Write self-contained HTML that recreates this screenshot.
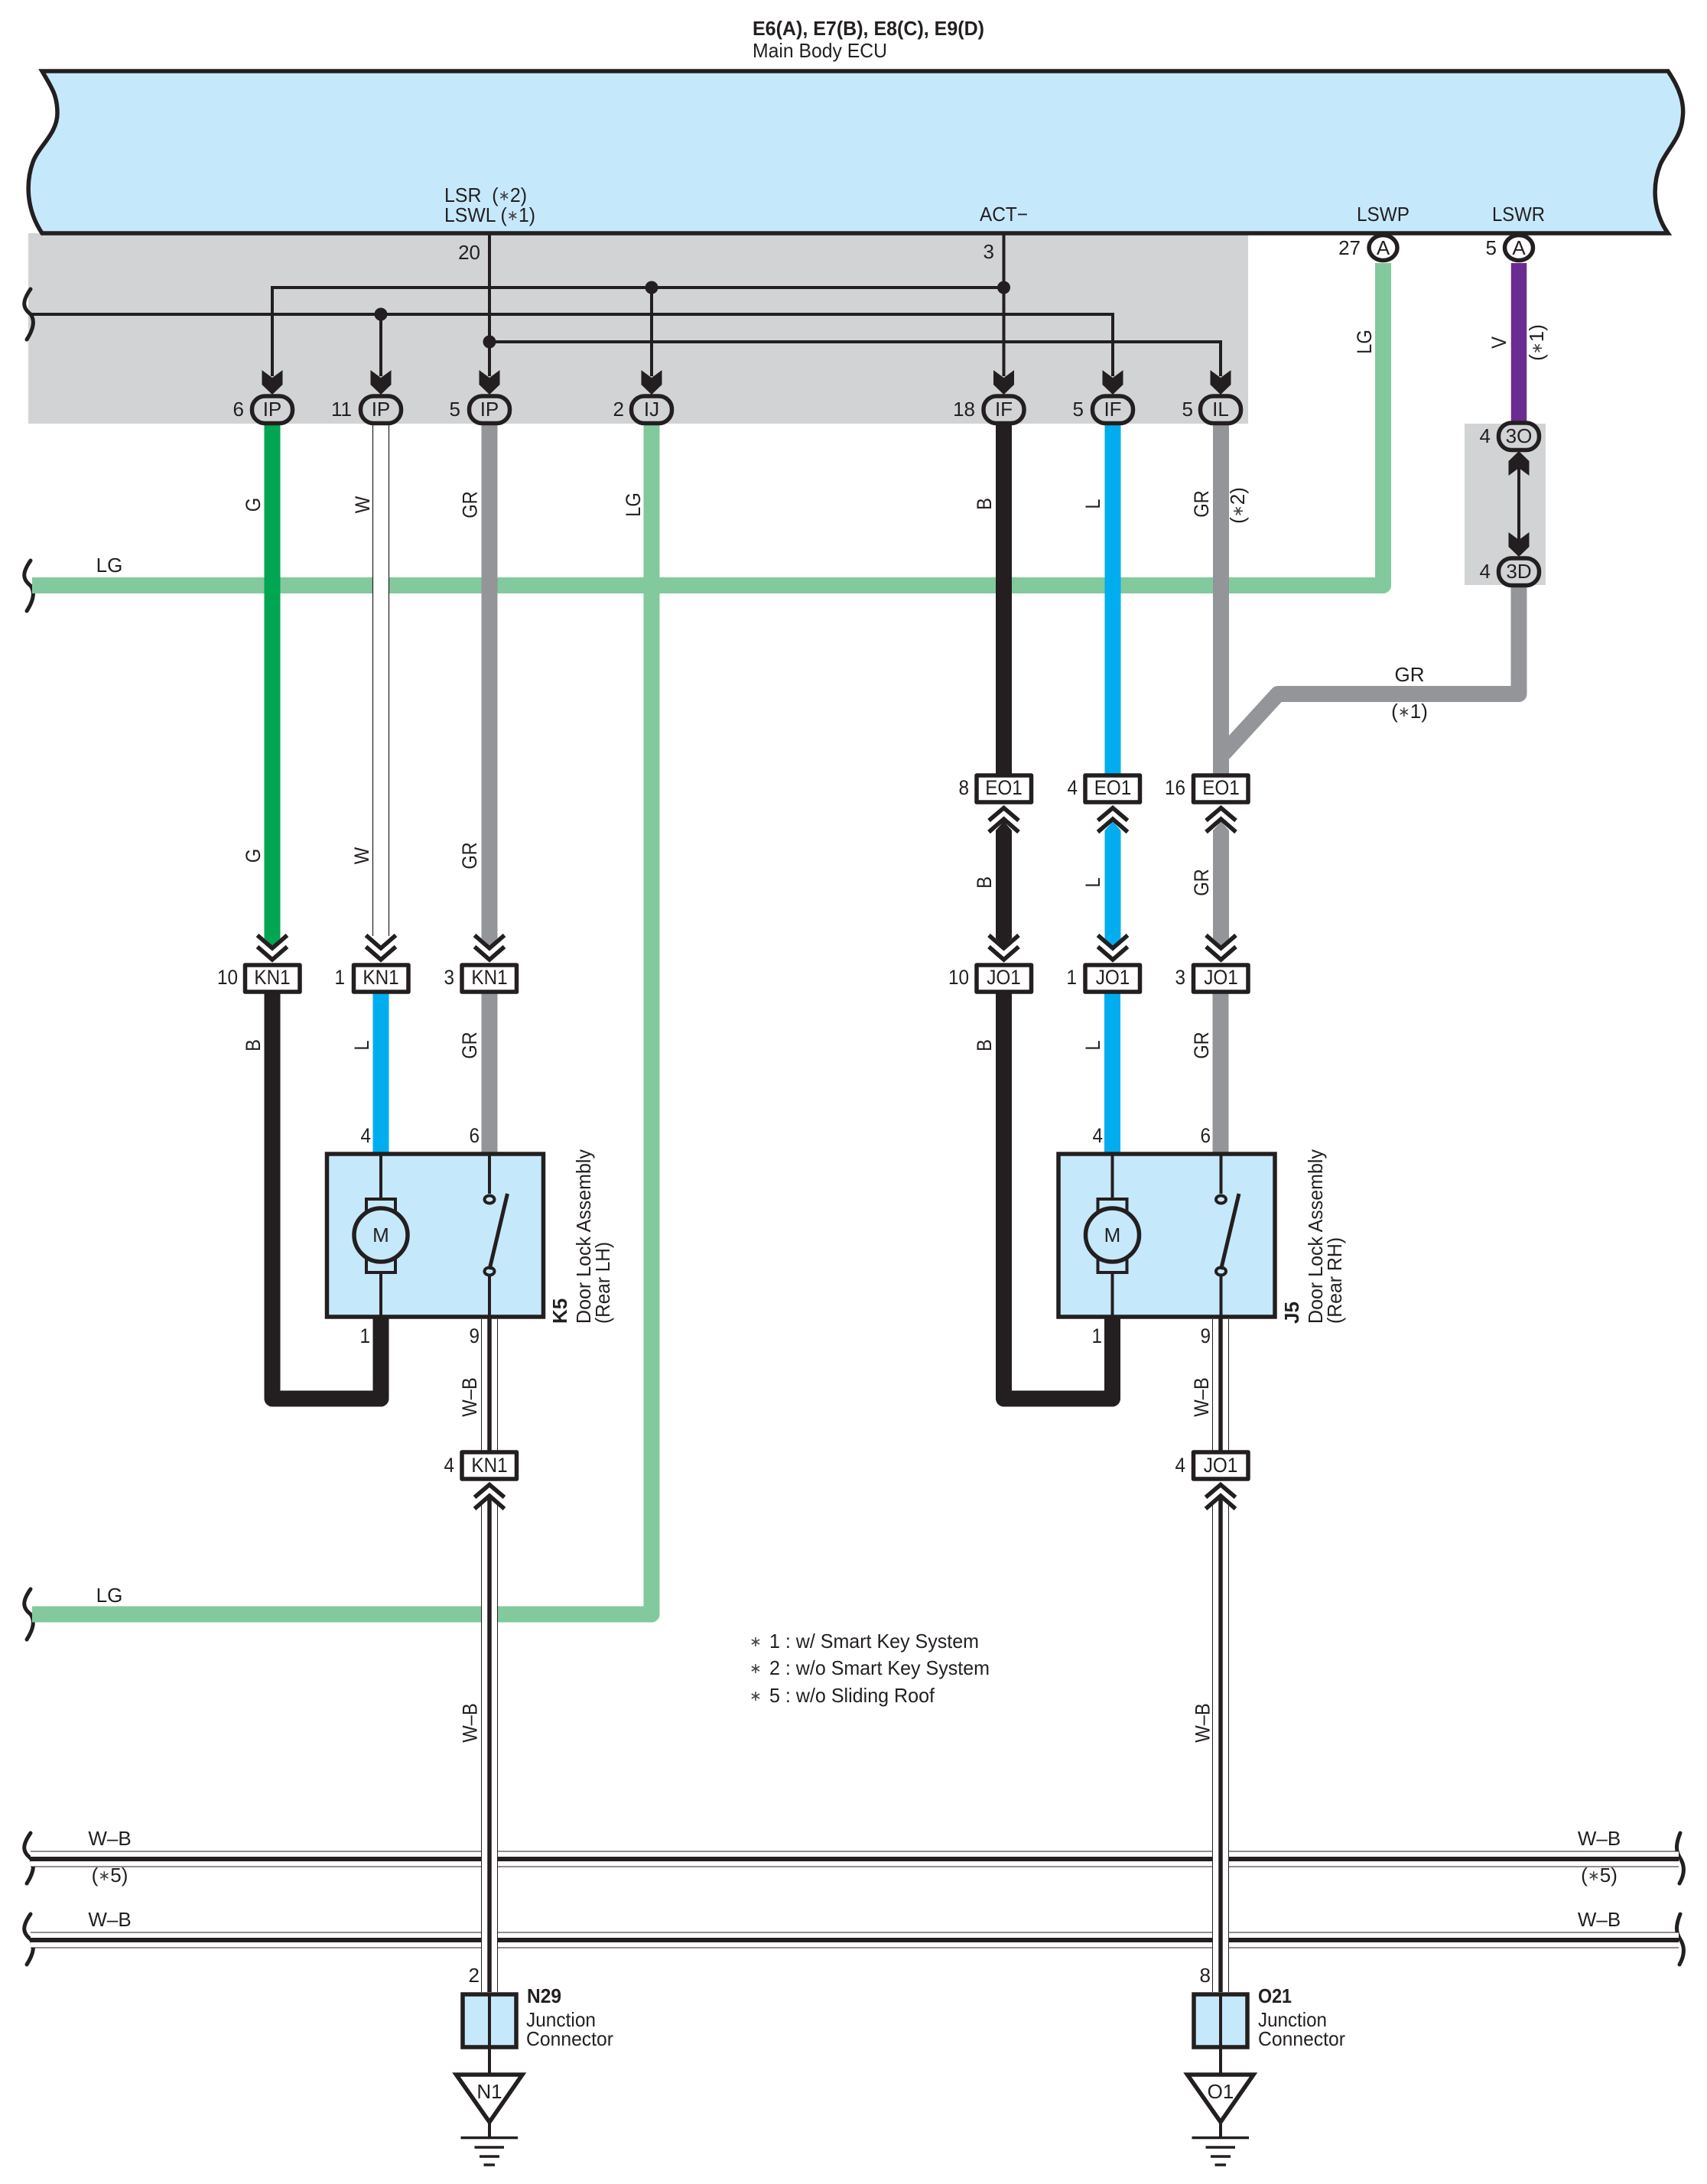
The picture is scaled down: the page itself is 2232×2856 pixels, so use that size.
<!DOCTYPE html>
<html><head><meta charset="utf-8"><style>
html,body{margin:0;padding:0;background:#fff}
svg{display:block}
text{font-family:"Liberation Sans",sans-serif;fill:#231f20;font-size:26px}
.m{text-anchor:middle}.e{text-anchor:end}
.c{font-size:27px}.b{font-weight:bold}
.a{font-size:19px;baseline-shift:2px;fill:#444}
.k{fill:none;stroke:#231f20;stroke-width:4}
</style></head><body>
<svg xmlns="http://www.w3.org/2000/svg" width="2232" height="2856" viewBox="0 0 2232 2856">
<defs>
<path id="ah" d="M-13.5 0L0 10L13.5 0V19L0 32L-13.5 19Z" fill="#231f20"/>
<path id="au" d="M-13.5 0L0 -10L13.5 0V-19L0 -32L-13.5 -19Z" fill="#231f20"/>
<g id="cd" style="fill:none;stroke:#231f20;stroke-width:5.5"><path d="M-19.5 1223L0 1240L19.5 1223"/><path d="M-19.5 1238L0 1255L19.5 1238"/></g>
<g id="cu" style="fill:none;stroke:#231f20;stroke-width:5.5"><path d="M-19.5 1073L0 1056.5L19.5 1073"/><path d="M-19.5 1088L0 1071L19.5 1088"/></g>
<g id="sqL"><path d="M40 -33C28 -16 30 -8 40 0C46 8 44 19 35 33" style="fill:none;stroke:#231f20;stroke-width:5;stroke-linecap:round"/></g>
<g id="sqR"><path d="M2197 -33C2190 -16 2192 -8 2197 0C2202 8 2204 19 2196 33" style="fill:none;stroke:#231f20;stroke-width:5;stroke-linecap:round"/></g>
<g id="doorBox">
<rect x="427.5" y="1509" width="283" height="213" fill="#c6e8fb" stroke="#231f20" stroke-width="5.5"/>
<path d="M498 1509V1722M640 1509V1561M640 1669V1722" class="k"/>
<rect x="479" y="1568" width="38" height="20" fill="#c6e8fb" stroke="#231f20" stroke-width="4"/>
<rect x="479" y="1643" width="38" height="21" fill="#c6e8fb" stroke="#231f20" stroke-width="4"/>
<circle cx="498" cy="1615" r="35" fill="#c6e8fb" stroke="#231f20" stroke-width="5.5"/>
<ellipse cx="640" cy="1568.5" rx="6.5" ry="5" fill="#c6e8fb" stroke="#231f20" stroke-width="4"/>
<ellipse cx="640" cy="1662.5" rx="6.5" ry="5" fill="#c6e8fb" stroke="#231f20" stroke-width="4"/>
<path d="M663.5 1561L640 1660" fill="none" stroke="#231f20" stroke-width="5"/>
</g>
</defs>

<!-- gray zones -->
<rect x="37" y="305" width="1595" height="249" fill="#d1d3d4"/>
<rect x="1915" y="554" width="106" height="211" fill="#d1d3d4"/>

<!-- ECU -->
<path d="M55 93H2181C2196 115 2203 135 2200 155C2198 180 2180 195 2171 215C2161 240 2160 275 2181 305H55C35 275 33 240 43 212C50 192 75 175 75 148C75 125 68 115 55 93Z" fill="#c6e8fb" stroke="#231f20" stroke-width="5.5" stroke-linejoin="miter"/>

<!-- squiggles -->
<use href="#sqL" transform="translate(0 411)"/>
<use href="#sqL" transform="translate(0 766)"/>
<use href="#sqL" transform="translate(0 2111)"/>
<use href="#sqL" transform="translate(0 2430)"/>
<use href="#sqL" transform="translate(0 2536)"/>
<use href="#sqR" transform="translate(0 2430)"/>
<use href="#sqR" transform="translate(0 2536)"/>

<!-- thin wires in gray zone -->
<g class="k">
<path d="M356 492V376H1312.5"/>
<path d="M40 411H1455V492"/>
<path d="M640 305V492"/>
<path d="M640 447H1596V492"/>
<path d="M852 376V492"/>
<path d="M1312.5 305V492"/>
<path d="M498 411V492"/>
<path d="M1986 600V720"/>
</g>
<g fill="#231f20">
<circle cx="498" cy="411" r="8.5"/><circle cx="852" cy="376" r="8.5"/><circle cx="1312.5" cy="376" r="8.5"/><circle cx="640" cy="447" r="8.5"/>
</g>
<use href="#ah" x="356" y="484"/><use href="#ah" x="498" y="484"/><use href="#ah" x="640" y="484"/><use href="#ah" x="852" y="484"/>
<use href="#ah" x="1312.5" y="484"/><use href="#ah" x="1455" y="484"/><use href="#ah" x="1596" y="484"/>
<use href="#au" x="1986" y="622"/><use href="#ah" x="1986" y="696"/>

<!-- LG wires -->
<g fill="none" stroke="#82c99d" stroke-width="21" stroke-linejoin="round">
<path d="M42 765.5H1808.5V344"/>
<path d="M42 2111H852V556"/>
</g>

<!-- horizontal W-B -->
<g>
<rect x="40" y="2420.5" width="2155" height="20.5" fill="#fff"/>
<rect x="40" y="2526.5" width="2155" height="20.5" fill="#fff"/>
<path d="M40 2421H2195M40 2441H2195M40 2527H2195M40 2547H2195" stroke="#231f20" stroke-width="1" fill="none"/>
<path d="M40 2431H2195M40 2537H2195" stroke="#231f20" stroke-width="6" fill="none"/>
</g>

<!-- upper colored wires -->
<path d="M345.5 556H366.5V1227L356 1237L345.5 1227Z" fill="#00a651"/>
<path d="M629.5 556H650.5V1227L640 1237L629.5 1227Z" fill="#939598"/>
<path d="M487.5 556H508.5V1224H487.5Z" fill="#fff"/>
<path d="M487.5 556V1224M508.5 556V1224" stroke="#231f20" stroke-width="1.2" fill="none"/>
<path d="M1302 556H1323V1015H1302Z" fill="#231f20"/>
<path d="M1444.5 556H1465.5V1015H1444.5Z" fill="#00aeef"/>
<path d="M1586 556H1607V1015H1586Z" fill="#939598"/>
<path d="M1986 344V555" stroke="#6c2b90" stroke-width="20.5" fill="none"/>
<path d="M1986 766V907.5H1671L1600 985" stroke="#939598" stroke-width="21" fill="none" stroke-linejoin="round"/>

<!-- EO1 - JO1 wires -->
<path d="M1302 1086L1312.5 1074L1323 1086V1227L1312.5 1237L1302 1227Z" fill="#231f20"/>
<path d="M1444.5 1086L1455 1074L1465.5 1086V1227L1455 1237L1444.5 1227Z" fill="#00aeef"/>
<path d="M1586 1086L1596.5 1074L1607 1086V1227L1596.5 1237L1586 1227Z" fill="#939598"/>

<!-- lower wires -->
<g fill="none" stroke-width="21" stroke-linejoin="round">
<path d="M356 1299V1829H498V1722" stroke="#231f20"/>
<path d="M498 1299V1510" stroke="#00aeef"/>
<path d="M640 1299V1510" stroke="#939598"/>
<path d="M1312.5 1299V1829H1454.5V1722" stroke="#231f20"/>
<path d="M1454.5 1299V1510" stroke="#00aeef"/>
<path d="M1596 1299V1510" stroke="#939598"/>
</g>

<!-- door boxes -->
<use href="#doorBox"/>
<use href="#doorBox" transform="translate(956.5 0)"/>

<!-- W-B verticals -->
<g>
<rect x="629.5" y="1725" width="21" height="172" fill="#fff"/>
<rect x="629.5" y="1968" width="21" height="637" fill="#fff"/>
<rect x="1585.5" y="1725" width="21" height="172" fill="#fff"/>
<rect x="1585.5" y="1968" width="21" height="637" fill="#fff"/>
<path d="M629.5 1725V1897M650.5 1725V1897M629.5 1968V2605M650.5 1968V2605M1585.5 1725V1897M1606.5 1725V1897M1585.5 1968V2605M1606.5 1968V2605" stroke="#231f20" stroke-width="1" fill="none"/>
<path d="M640 1722V1897M640 1956V2605M1596 1722V1897M1596 1956V2605" stroke="#231f20" stroke-width="5.5" fill="none"/>
</g>

<!-- chevrons -->
<use href="#cd" x="356"/><use href="#cd" x="498"/><use href="#cd" x="640"/>
<use href="#cd" x="1312.5"/><use href="#cd" x="1455"/><use href="#cd" x="1596.5"/>
<use href="#cu" x="1312.5"/><use href="#cu" x="1455"/><use href="#cu" x="1596.5"/>
<use href="#cu" transform="translate(640 885)"/><use href="#cu" transform="translate(1596 885)"/>

<!-- rectangular connectors -->
<g fill="#fff" stroke="#231f20" stroke-width="5.5" stroke-linejoin="round">
<rect x="320.5" y="1262" width="71.5" height="35"/>
<rect x="462.5" y="1262" width="71.5" height="35"/>
<rect x="604" y="1262" width="71.5" height="35"/>
<rect x="1277" y="1262" width="71.5" height="35"/>
<rect x="1419" y="1262" width="71.5" height="35"/>
<rect x="1560.5" y="1262" width="71.5" height="35"/>
<rect x="1277" y="1014" width="71.5" height="35"/>
<rect x="1419" y="1014" width="71.5" height="35"/>
<rect x="1560.5" y="1014" width="71.5" height="35"/>
<rect x="604" y="1899" width="71.5" height="35"/>
<rect x="1560.5" y="1899" width="71.5" height="35"/>
</g>

<!-- pills -->
<g fill="#d1d3d4" stroke="#231f20" stroke-width="5.5">
<rect x="329.5" y="518" width="53" height="35.5" rx="17"/>
<rect x="471.5" y="518" width="53" height="35.5" rx="17"/>
<rect x="613.5" y="518" width="53" height="35.5" rx="17"/>
<rect x="825.5" y="518" width="53" height="35.5" rx="17"/>
<rect x="1286" y="518" width="53" height="35.5" rx="17"/>
<rect x="1428.5" y="518" width="53" height="35.5" rx="17"/>
<rect x="1569.5" y="518" width="53" height="35.5" rx="17"/>
<rect x="1959.5" y="553" width="53" height="35.5" rx="17"/>
<rect x="1959.5" y="730" width="53" height="35.5" rx="17"/>
</g>
<g fill="#fff" stroke="#231f20" stroke-width="5.5">
<ellipse cx="1808.5" cy="324" rx="18.5" ry="16.5"/>
<ellipse cx="1986" cy="324" rx="18.5" ry="16.5"/>
</g>

<!-- junction connectors & grounds -->
<g stroke="#231f20">
<rect x="605" y="2608" width="70" height="69" fill="#c6e8fb" stroke-width="5.5"/>
<rect x="1561" y="2608" width="70" height="69" fill="#c6e8fb" stroke-width="5.5"/>
<path d="M640 2608V2712M1596 2608V2712" stroke-width="4" fill="none"/>
<path d="M596.5 2713H683L640 2775Z" fill="#fff" stroke-width="5.5" stroke-linejoin="miter"/>
<path d="M1552.5 2713H1639L1596 2775Z" fill="#fff" stroke-width="5.5" stroke-linejoin="miter"/>
<path d="M640 2775V2795M1596 2775V2795" stroke-width="4" fill="none"/>
<path d="M602.5 2795.5H677M620.5 2808H659M627 2820H653M632.5 2831H647M1558.5 2795.5H1633M1576.5 2808H1615M1583 2820H1609M1588.5 2831H1603" stroke-width="3.5" fill="none"/>
</g>

<!-- header text -->
<text class="b" x="984" y="46" textLength="303" lengthAdjust="spacingAndGlyphs">E6(A), E7(B), E8(C), E9(D)</text>
<text x="984" y="75" textLength="176" lengthAdjust="spacingAndGlyphs">Main Body ECU</text>
<text x="581" y="264" textLength="108" lengthAdjust="spacingAndGlyphs" xml:space="preserve">LSR  (<tspan class="a">∗</tspan>2)</text>
<text x="581" y="290" textLength="119" lengthAdjust="spacingAndGlyphs">LSWL (<tspan class="a">∗</tspan>1)</text>
<text x="1281" y="289" textLength="63" lengthAdjust="spacingAndGlyphs">ACT−</text>
<text x="1774" y="289" textLength="69" lengthAdjust="spacingAndGlyphs">LSWP</text>
<text x="1951" y="289" textLength="69" lengthAdjust="spacingAndGlyphs">LSWR</text>
<text class="e" x="628" y="339">20</text>
<text class="e" x="1300" y="338">3</text>
<text class="e" x="1779" y="333">27</text>
<text class="e" x="1957" y="333">5</text>
<text class="m" x="1808.5" y="333">A</text>
<text class="m" x="1986" y="333">A</text>

<!-- pin numbers top -->
<text class="e" x="319" y="544">6</text>
<text class="e" x="460" y="544">11</text>
<text class="e" x="602" y="544">5</text>
<text class="e" x="816" y="544">2</text>
<text class="e" x="1275" y="544">18</text>
<text class="e" x="1417" y="544">5</text>
<text class="e" x="1560" y="544">5</text>
<text class="m" x="356" y="544">IP</text>
<text class="m" x="498" y="544">IP</text>
<text class="m" x="640" y="544">IP</text>
<text class="m" x="852" y="544">IJ</text>
<text class="m" x="1312.5" y="544">IF</text>
<text class="m" x="1455" y="544">IF</text>
<text class="m" x="1596" y="544">IL</text>
<text class="e" x="1949" y="579">4</text>
<text class="e" x="1949" y="756">4</text>
<text class="m" x="1986" y="579">3O</text>
<text class="m" x="1986" y="756">3D</text>

<!-- horizontal wire labels -->
<text class="m" x="143" y="748">LG</text>
<text class="m" x="143" y="2095">LG</text>
<text class="m" x="1843" y="891">GR</text>
<text class="m" x="1843" y="939">(<tspan class="a">∗</tspan>1)</text>
<text class="m" x="143.5" y="2413">W–B</text>
<text class="m" x="143.5" y="2461">(<tspan class="a">∗</tspan>5)</text>
<text class="m" x="143.5" y="2519">W–B</text>
<text class="m" x="2091" y="2413">W–B</text>
<text class="m" x="2091" y="2461">(<tspan class="a">∗</tspan>5)</text>
<text class="m" x="2091" y="2519">W–B</text>

<!-- rotated wire labels -->
<g>
<text class="m c" transform="translate(340 660) rotate(-90) scale(.88 1)">G</text>
<text class="m c" transform="translate(483 660) rotate(-90) scale(.88 1)">W</text>
<text class="m c" transform="translate(623.5 660) rotate(-90) scale(.88 1)">GR</text>
<text class="m c" transform="translate(837 660) rotate(-90) scale(.88 1)">LG</text>
<text class="m c" transform="translate(1296 659) rotate(-90) scale(.88 1)">B</text>
<text class="m c" transform="translate(1438 659) rotate(-90) scale(.88 1)">L</text>
<text class="m c" transform="translate(1580 659) rotate(-90) scale(.88 1)">GR</text>
<text class="m" transform="translate(1627 661) rotate(-90)">(<tspan class="a">∗</tspan>2)</text>
<text class="m c" transform="translate(1793 447) rotate(-90) scale(.88 1)">LG</text>
<text class="m c" transform="translate(1969 448) rotate(-90) scale(.88 1)">V</text>
<text class="m" transform="translate(2018 448) rotate(-90)">(<tspan class="a">∗</tspan>1)</text>

<text class="m c" transform="translate(340 1119) rotate(-90) scale(.88 1)">G</text>
<text class="m c" transform="translate(482 1119) rotate(-90) scale(.88 1)">W</text>
<text class="m c" transform="translate(623 1119) rotate(-90) scale(.88 1)">GR</text>
<text class="m c" transform="translate(340 1367) rotate(-90) scale(.88 1)">B</text>
<text class="m c" transform="translate(482 1367) rotate(-90) scale(.88 1)">L</text>
<text class="m c" transform="translate(623 1367) rotate(-90) scale(.88 1)">GR</text>
<text class="m c" transform="translate(623 1827) rotate(-90) scale(.88 1)">W–B</text>
<text class="m c" transform="translate(623.5 2253) rotate(-90) scale(.88 1)">W–B</text>

<text class="m c" transform="translate(1296 1154) rotate(-90) scale(.88 1)">B</text>
<text class="m c" transform="translate(1438 1154) rotate(-90) scale(.88 1)">L</text>
<text class="m c" transform="translate(1580 1154) rotate(-90) scale(.88 1)">GR</text>
<text class="m c" transform="translate(1296 1367) rotate(-90) scale(.88 1)">B</text>
<text class="m c" transform="translate(1438 1367) rotate(-90) scale(.88 1)">L</text>
<text class="m c" transform="translate(1580 1367) rotate(-90) scale(.88 1)">GR</text>
<text class="m c" transform="translate(1580 1827) rotate(-90) scale(.88 1)">W–B</text>
<text class="m c" transform="translate(1581.5 2253) rotate(-90) scale(.88 1)">W–B</text>
</g>

<!-- connector labels -->
<g>
<text class="m c" transform="translate(356 1287) scale(.9 1)">KN1</text>
<text class="m c" transform="translate(498 1287) scale(.9 1)">KN1</text>
<text class="m c" transform="translate(640 1287) scale(.9 1)">KN1</text>
<text class="m c" transform="translate(640 1925) scale(.9 1)">KN1</text>
<text class="m c" transform="translate(1312.5 1039) scale(.9 1)">EO1</text>
<text class="m c" transform="translate(1455 1039) scale(.9 1)">EO1</text>
<text class="m c" transform="translate(1596.5 1039) scale(.9 1)">EO1</text>
<text class="m c" transform="translate(1312.5 1287) scale(.9 1)">JO1</text>
<text class="m c" transform="translate(1455 1287) scale(.9 1)">JO1</text>
<text class="m c" transform="translate(1596.5 1287) scale(.9 1)">JO1</text>
<text class="m c" transform="translate(1596 1925) scale(.9 1)">JO1</text>
</g>

<!-- lower pins -->
<g>
<text class="e c" transform="translate(311 1287) scale(.9 1)">10</text>
<text class="e c" transform="translate(451 1287) scale(.9 1)">1</text>
<text class="e c" transform="translate(594 1287) scale(.9 1)">3</text>
<text class="e c" transform="translate(1267 1039) scale(.9 1)">8</text>
<text class="e c" transform="translate(1409 1039) scale(.9 1)">4</text>
<text class="e c" transform="translate(1550 1039) scale(.9 1)">16</text>
<text class="e c" transform="translate(1267 1287) scale(.9 1)">10</text>
<text class="e c" transform="translate(1408 1287) scale(.9 1)">1</text>
<text class="e c" transform="translate(1550 1287) scale(.9 1)">3</text>
<text class="e c" transform="translate(485 1494) scale(.9 1)">4</text>
<text class="e c" transform="translate(627 1494) scale(.9 1)">6</text>
<text class="e c" transform="translate(484 1756) scale(.9 1)">1</text>
<text class="e c" transform="translate(627 1756) scale(.9 1)">9</text>
<text class="e c" transform="translate(1442 1494) scale(.9 1)">4</text>
<text class="e c" transform="translate(1583 1494) scale(.9 1)">6</text>
<text class="e c" transform="translate(1441 1756) scale(.9 1)">1</text>
<text class="e c" transform="translate(1583 1756) scale(.9 1)">9</text>
<text class="e c" transform="translate(594 1925) scale(.9 1)">4</text>
<text class="e c" transform="translate(1550 1925) scale(.9 1)">4</text>
<text class="e" x="627" y="2592">2</text>
<text class="e" x="1583" y="2592">8</text>
</g>

<text class="m" x="498" y="1624">M</text>
<text class="m" x="1454.5" y="1624">M</text>

<!-- door labels -->
<g>
<text class="b" transform="translate(741 1731) rotate(-90)">K5</text>
<text transform="translate(772 1731) rotate(-90)" textLength="228" lengthAdjust="spacingAndGlyphs">Door Lock Assembly</text>
<text transform="translate(797 1731) rotate(-90)" textLength="107" lengthAdjust="spacingAndGlyphs">(Rear LH)</text>
<text class="b" transform="translate(1698 1731) rotate(-90)">J5</text>
<text transform="translate(1729 1731) rotate(-90)" textLength="228" lengthAdjust="spacingAndGlyphs">Door Lock Assembly</text>
<text transform="translate(1754 1731) rotate(-90)" textLength="113" lengthAdjust="spacingAndGlyphs">(Rear RH)</text>
</g>

<!-- junction labels -->
<text class="b" x="689" y="2619" textLength="45" lengthAdjust="spacingAndGlyphs">N29</text>
<text x="688" y="2650" textLength="91" lengthAdjust="spacingAndGlyphs">Junction</text>
<text x="688" y="2675" textLength="114" lengthAdjust="spacingAndGlyphs">Connector</text>
<text class="b" x="1645" y="2619" textLength="44" lengthAdjust="spacingAndGlyphs">O21</text>
<text x="1645" y="2650" textLength="90" lengthAdjust="spacingAndGlyphs">Junction</text>
<text x="1645" y="2675" textLength="114" lengthAdjust="spacingAndGlyphs">Connector</text>
<text class="m" x="640" y="2744">N1</text>
<text class="m" x="1596" y="2744">O1</text>

<!-- notes -->
<text class="m" x="988" y="2153" style="font-size:19px;fill:#444">∗</text>
<text class="m" x="988" y="2188" style="font-size:19px;fill:#444">∗</text>
<text class="m" x="988" y="2224" style="font-size:19px;fill:#444">∗</text>
<text x="1006" y="2155" textLength="274" lengthAdjust="spacingAndGlyphs">1 : w/ Smart Key System</text>
<text x="1006" y="2190" textLength="288" lengthAdjust="spacingAndGlyphs">2 : w/o Smart Key System</text>
<text x="1006" y="2226" textLength="216" lengthAdjust="spacingAndGlyphs">5 : w/o Sliding Roof</text>
</svg>
</body></html>
